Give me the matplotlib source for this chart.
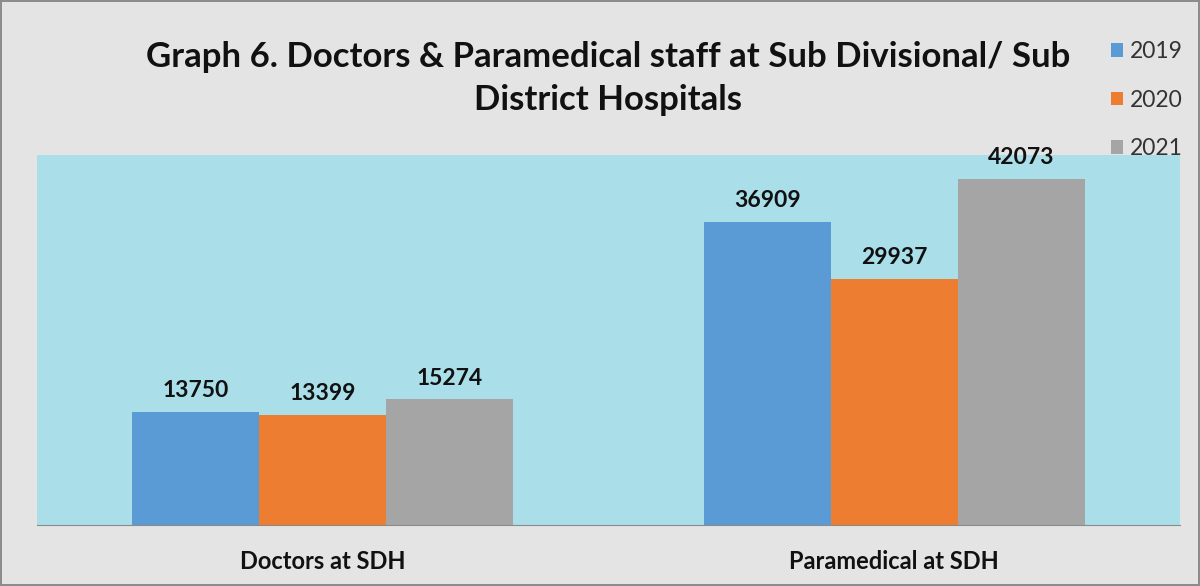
import matplotlib.pyplot as plt
import numpy as np

# Data
categories = ["Doctors at SDH", "Paramedical at SDH"]
years = ["2019", "2020", "2021"]
values_2019 = [13750, 36909]
values_2020 = [13399, 29937]
values_2021 = [15274, 42073]
colors = ["#5B9BD5", "#ED7D31", "#A5A5A5"]

plt.rcParams["font.family"] = ["Lato", "DejaVu Sans"]

fig = plt.figure(figsize=(12, 5.86), dpi=100)
fig.patch.set_facecolor("#e4e4e4")
fig.patch.set_edgecolor("#8c8c8c")
fig.patch.set_linewidth(1.5)

ax = fig.add_axes([0.0308, 0.1041, 0.9525, 0.6314])
ax.set_facecolor("#aadfe9")

x = np.arange(len(categories))
width = 0.222
series = [values_2019, values_2020, values_2021]
for i, (vals, yr) in enumerate(zip(series, years)):
    bars = ax.bar(x + (i - 1) * width, vals, width, color=colors[i], label=yr)
    for b, v in zip(bars, vals):
        ax.text(b.get_x() + b.get_width() / 2, v + 1300, str(v),
                ha="center", va="bottom", fontsize=16.5, fontweight="bold",
                color="#111111")

ax.set_xlim(-0.5, 1.5)
ax.set_ylim(0, 45000)
ax.set_yticks([])
ax.set_xticks(x)
ax.set_xticklabels(categories, fontsize=17, fontweight="bold", color="#111111")
ax.tick_params(axis="x", length=0, pad=18)
for s in ["top", "right", "left"]:
    ax.spines[s].set_visible(False)
ax.spines["bottom"].set_color("#8a8a8a")

fig.text(0.507, 0.866, "Graph 6. Doctors & Paramedical staff at Sub Divisional/ Sub\nDistrict Hospitals",
         ha="center", va="center", fontsize=25, fontweight="bold", color="#111111",
         linespacing=1.42)

leg = fig.legend(loc="upper right", bbox_to_anchor=(1.003, 0.965), frameon=False,
                 fontsize=16.5, handlelength=0.55, handleheight=0.55, handletextpad=0.3,
                 labelspacing=1.2)
for t in leg.get_texts():
    t.set_color("#333333")

fig.savefig("out.png", dpi=100, facecolor=fig.get_facecolor(), edgecolor=fig.get_edgecolor())
